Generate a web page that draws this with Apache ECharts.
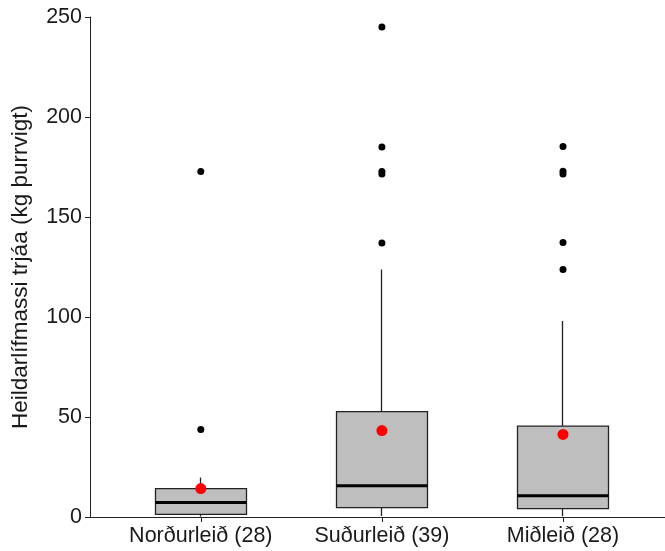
<!DOCTYPE html>
<html>
<head>
<meta charset="utf-8">
<script src="https://cdn.jsdelivr.net/npm/echarts@6/dist/echarts.min.js"></script>
<style>
  html, body { margin: 0; padding: 0; background: #fff; }
  #chart { width: 665px; height: 551px; }
</style>
</head>
<body>
<div id="chart"></div>
<script>
// gögn lesin af myndinni
var categories = ["Norðurleið (28)", "Suðurleið (39)", "Miðleið (28)"];
var whiskerLow = [0.3, 0.5, 0.4];
var q1 = [1.3, 4.7, 4.2];
var median = [7.2, 15.6, 10.6];
var q3 = [14.2, 52.7, 45.4];
var whiskerHigh = [19.8, 123.7, 98];
var means = [14.2, 43.2, 41.3];
var outliers = [
  [43.8, 172.8],
  [137, 171.5, 172.8, 185, 245],
  [123.7, 137.2, 171.5, 172.9, 185.2]
];
var yTicks = [0, 50, 100, 150, 200, 250];

var boxData = categories.map(function (c, i) {
  return [q1[i], q3[i], whiskerLow[i], whiskerHigh[i]];
});
var medianData = categories.map(function (c, i) { return [c, median[i]]; });
var meanData = categories.map(function (c, i) { return [c, means[i]]; });
var outlierData = [];
outliers.forEach(function (list, i) {
  list.forEach(function (v) { outlierData.push([categories[i], v]); });
});

var textColor = "#1a1a1a";
var lineColor = "#222";

var chart = echarts.init(document.getElementById("chart"));
chart.setOption({
  animation: false,
  backgroundColor: "#fff",
  // grid 0: ásalínur, grid 1: kassarnir sjálfir
  grid: [
    { left: 90, top: 17, width: 584, bottom: 34, outerBoundsMode: "none" },
    { left: 110.25, top: 17, width: 543.3, bottom: 34, outerBoundsMode: "none" }
  ],
  xAxis: [
    {
      gridIndex: 0,
      type: "value",
      min: 0.38,
      max: 3.62,
      axisLine: { show: true, lineStyle: { color: lineColor, width: 1 } },
      axisTick: { show: false },
      axisLabel: { show: false },
      splitLine: { show: false }
    },
    {
      gridIndex: 1,
      type: "category",
      data: categories,
      axisLine: { show: false },
      axisTick: { show: true, alignWithLabel: true, length: 5, lineStyle: { color: lineColor } },
      axisLabel: {
        color: textColor,
        fontSize: 21.5,
        fontFamily: "Liberation Sans",
        margin: 8,
        interval: 0,
        hideOverlap: false
      },
      splitLine: { show: false }
    }
  ],
  yAxis: [
    {
      gridIndex: 0,
      type: "value",
      min: yTicks[0],
      max: yTicks[yTicks.length - 1],
      interval: 50,
      name: "Heildarlífmassi trjáa (kg þurrvigt)",
      nameLocation: "middle",
      nameGap: 58,
      nameTextStyle: { color: textColor, fontSize: 22.5, fontFamily: "Liberation Sans" },
      axisLine: { show: true, lineStyle: { color: lineColor, width: 1 } },
      axisTick: { show: true, length: 5, lineStyle: { color: lineColor } },
      axisLabel: { color: textColor, fontSize: 21.5, fontFamily: "Liberation Sans", margin: 8 },
      splitLine: { show: false }
    },
    {
      gridIndex: 1,
      type: "value",
      min: yTicks[0],
      max: yTicks[yTicks.length - 1],
      show: false
    }
  ],
  series: [
    {
      type: "candlestick",
      xAxisIndex: 1,
      yAxisIndex: 1,
      barWidth: 91,
      data: boxData,
      itemStyle: {
        color: "#bebebe",
        color0: "#bebebe",
        borderColor: "#222",
        borderColor0: "#222",
        borderWidth: 1.3
      }
    },
    {
      type: "scatter",
      xAxisIndex: 1,
      yAxisIndex: 1,
      symbol: "rect",
      symbolSize: [91, 3],
      data: medianData,
      itemStyle: { color: "#000", opacity: 1 }
    },
    {
      type: "scatter",
      xAxisIndex: 1,
      yAxisIndex: 1,
      symbolSize: 7,
      data: outlierData,
      itemStyle: { color: "#000", opacity: 1 }
    },
    {
      type: "scatter",
      xAxisIndex: 1,
      yAxisIndex: 1,
      symbolSize: 11,
      data: meanData,
      itemStyle: { color: "#ff0000", opacity: 1 }
    }
  ]
});
</script>
</body>
</html>
